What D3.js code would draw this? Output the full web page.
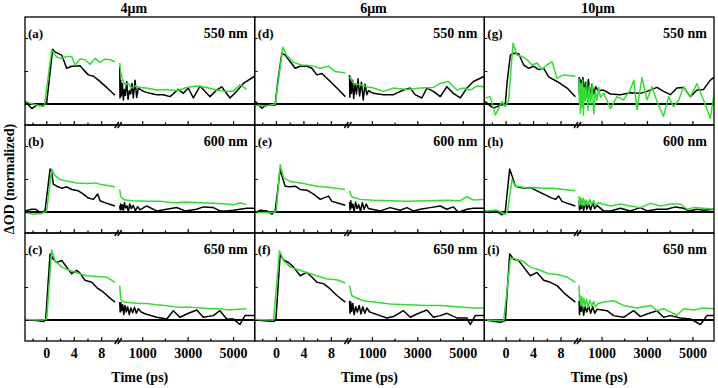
<!DOCTYPE html>
<html>
<head>
<meta charset="utf-8">
<script src="https://cdn.jsdelivr.net/npm/d3@7"></script>
<style>
  body { margin: 0; background: #fff; }
  svg text { font-family: "Times New Roman", "Liberation Serif", Times, serif; font-weight: bold; fill: #000; }
</style>
</head>
<body>
<svg id="chart" width="718" height="388"></svg>
<script>
// ---- data: [time (ps), normalized dOD] ----
const columns = ["4\u03bcm", "6\u03bcm", "10\u03bcm"];
const wavelengths = ["550 nm", "600 nm", "650 nm"];
const panelIds = ["a", "d", "g", "b", "e", "h", "c", "f", "i"];

const earlyTicks = [0, 4, 8];
const earlyMinor = [-2, 2, 6];
const lateTicks = [1000, 3000, 5000];
const lateMinor = [2000, 4000];
const yTicks = [0, 0.5, 1];

// (a) 4um 550 nm
const a_blk_early = [[-3.1,0.04],[-2.1,-0.07],[-1.15,0],[-0.43,-0.02],[0.06,0.02],[0.93,0.83],[1.27,0.79],[2.25,0.74],[2.97,0.54],[3.7,0.57],[4.92,0.58],[5.4,0.52],[6.13,0.44],[6.86,0.42],[7.59,0.36],[8.8,0.25],[10,0.13]];
const a_grn_early = [[-3.1,0.04],[-2.37,0.01],[-0.67,-0.04],[-0.28,-0.03],[0.79,0.82],[1.52,0.71],[2.25,0.69],[2.97,0.72],[3.7,0.72],[4.19,0.59],[4.92,0.68],[5.64,0.67],[6.37,0.6],[7.1,0.69],[7.83,0.63],[8.56,0.68],[9.29,0.67],[10,0.64]];
const a_blk_late = [[10,0.57],[23,0.09],[52,0.36],[80,0.12],[125,0.31],[170,0.06],[214,0.22],[258,0.13],[317,0.34],[375,0.07],[434,0.2],[493,0.15],[551,0.31],[610,0.09],[683,0.36],[757,0.1],[830,0.24],[1050,0.19],[1344,0.16],[1637,0.14],[1930,0.14],[2224,0.11],[2590,0.22],[2810,0.16],[3030,0.24],[3250,0.09],[3544,0.27],[3984,0.11],[4277,0.21],[4498,0.26],[4864,0.09],[5157,0.19],[5451,0.31],[5950,0.42]];
const a_grn_late = [[10,0.62],[52,0.49],[140,0.36],[243,0.29],[390,0.31],[536,0.24],[683,0.27],[903,0.25],[1197,0.24],[1637,0.21],[2077,0.22],[2517,0.2],[2957,0.25],[3397,0.27],[3837,0.25],[4277,0.21],[4718,0.19],[5011,0.19],[5304,0.29],[5598,0.22]];

// (b) 4um 600 nm
const b_blk_early = [[-3.1,0.015],[-2.13,0.04],[-1.5,0.04],[-0.91,-0.01],[-0.18,0.015],[0.55,0.65],[0.79,0.6],[1.03,0.42],[1.52,0.39],[2.25,0.36],[2.97,0.38],[3.7,0.34],[4.67,0.32],[5.4,0.27],[6.13,0.21],[6.86,0.19],[7.49,0.27],[7.83,0.17],[8.8,0.13],[10,0.09]];
const b_grn_early = [[-3.1,-0.01],[-1.88,-0.035],[-0.67,-0.025],[0.06,0.015],[0.79,0.65],[1.27,0.55],[2,0.49],[2.97,0.47],[4.43,0.44],[5.89,0.43],[7.1,0.44],[7.83,0.42],[10,0.38]];
const b_blk_late = [[10,0.1],[30,0.03],[55,0.12],[90,0.04],[130,0.11],[170,0.02],[220,0.14],[270,0.06],[330,0.09],[390,0],[450,0.12],[520,0.05],[600,0.1],[700,0.02],[800,0.08],[900,0.03],[1197,0.09],[1637,0.015],[2077,0.04],[2517,0.066],[2884,0.015],[3397,0.04],[3690,0.076],[4131,0.066],[4424,0.015],[4718,0.015],[5011,0.025],[5598,0.056],[5950,0.056]];
const b_grn_late = [[10,0.34],[52,0.24],[111,0.21],[243,0.18],[610,0.17],[1197,0.16],[1784,0.16],[2370,0.14],[2957,0.15],[3544,0.14],[4131,0.13],[4718,0.12],[5011,0.11],[5304,0.14],[5598,0.11]];

// (c) 4um 650 nm
const c_blk_early = [[-3.1,0.005],[-1.4,-0.01],[-0.43,-0.025],[-0.09,0],[0.55,1],[1.03,0.92],[1.52,0.87],[2.25,0.9],[2.97,0.8],[3.7,0.7],[4.43,0.75],[4.92,0.71],[5.64,0.6],[6.62,0.57],[7.35,0.49],[8.32,0.42],[9.29,0.33],[10,0.27]];
const c_grn_early = [[-3.1,0.005],[-0.43,0],[0.06,0.015],[0.79,1.06],[1.27,0.9],[2.25,0.8],[3.46,0.75],[4.92,0.7],[5.89,0.67],[7.35,0.66],[8.8,0.65],[10,0.57]];
const c_blk_late = [[10,0.27],[30,0.12],[60,0.26],[100,0.14],[140,0.23],[190,0.08],[240,0.22],[300,0.12],[360,0.2],[430,0.08],[500,0.18],[580,0.11],[660,0.19],[740,0.1],[830,0.17],[950,0.12],[1150,0.09],[1640,0.04],[2080,0.015],[2370,0.14],[2660,0.04],[2960,0.09],[3400,0.15],[3690,0.04],[4130,0.065],[4420,0.14],[4720,0.015],[5010,0.015],[5300,-0.07],[5520,0.065],[5950,0.065]];
const c_grn_late = [[10,0.52],[40,0.38],[80,0.29],[200,0.27],[500,0.26],[900,0.25],[1200,0.25],[1600,0.23],[2000,0.22],[2400,0.2],[2800,0.19],[3200,0.19],[3600,0.18],[4000,0.17],[4400,0.17],[4800,0.15],[5200,0.16],[5600,0.17]];

// (d) 6um 550 nm
const d_blk_early = [[-3,0.035],[-2.05,-0.065],[-1.32,-0.015],[-0.11,-0.015],[0.23,0.31],[0.86,0.77],[1.35,0.74],[2.08,0.64],[2.8,0.54],[3.53,0.57],[4.5,0.57],[5.23,0.54],[5.96,0.44],[6.69,0.46],[7.42,0.39],[8.88,0.24],[10.1,0.11]];
const d_grn_early = [[-3,-0.015],[-1.32,-0.03],[-0.11,0],[1.01,0.86],[1.59,0.73],[2.56,0.63],[3.78,0.59],[5.23,0.58],[6.45,0.54],[7.66,0.57],[8.63,0.49],[10.1,0.47]];
const d_blk_late = [[15,0.44],[30,0.1],[60,0.4],[100,0.16],[150,0.36],[200,0.08],[260,0.3],[320,0.15],[390,0.38],[460,0.12],[540,0.33],[620,0.06],[700,0.3],[780,0.14],[850,0.2],[1070,0.16],[1510,0.14],[1950,0.14],[2390,0.21],[2690,0.24],[2900,0.14],[3200,0.09],[3420,0.24],[3710,0.19],[4010,0.11],[4300,0.26],[4590,0.16],[4890,0.09],[5180,0.24],[5470,0.34],[5950,0.42]];
const d_grn_late = [[16,0.41],[192,0.31],[485,0.29],[779,0.26],[1072,0.24],[1512,0.19],[1952,0.24],[2539,0.22],[3126,0.24],[3713,0.25],[4006,0.31],[4373,0.34],[4740,0.21],[5033,0.24],[5327,0.21],[5620,0.27],[5950,0.26]];

// (e) 6um 600 nm
const e_blk_early = [[-3,-0.01],[-2.3,0.025],[-1.32,0.015],[-0.6,-0.035],[-0.11,0.015],[0.62,0.65],[0.86,0.55],[1.35,0.39],[2.08,0.38],[2.8,0.39],[3.53,0.34],[4.5,0.33],[5.48,0.27],[6.45,0.19],[7.18,0.22],[7.66,0.24],[8.15,0.16],[8.88,0.14],[10.1,0.1]];
const e_grn_early = [[-3,-0.01],[-0.35,-0.01],[0.04,0.015],[0.62,0.72],[1.1,0.52],[2.08,0.46],[4.02,0.43],[5.96,0.39],[7.9,0.37],[10.1,0.34]];
const e_blk_late = [[15,0.15],[35,0.03],[70,0.17],[110,0.06],[160,0.12],[220,0],[280,0.15],[350,0.05],[420,0.11],[500,0.01],[580,0.14],[660,0.04],[750,0.12],[850,0.05],[1370,0.015],[1800,0.065],[2250,0.025],[2540,0.065],[2830,0.015],[3130,0.04],[3570,0.065],[4010,0.09],[4300,0.04],[4590,0.076],[4810,-0.005],[5180,0.04],[5470,0.055],[5950,0.055]];
const e_grn_late = [[15,0.32],[110,0.23],[480,0.19],[1070,0.175],[1800,0.17],[2540,0.16],[3420,0.17],[4300,0.175],[4890,0.17],[5180,0.23],[5470,0.18],[5950,0.19]];

// (f) 6um 650 nm
const f_blk_early = [[-3,0],[-0.35,-0.025],[-0.01,0],[0.62,1],[1.1,0.91],[1.83,0.87],[2.56,0.8],[3.53,0.67],[4.5,0.72],[5.23,0.65],[5.96,0.57],[6.93,0.55],[7.9,0.47],[8.88,0.37],[10.1,0.27]];
const f_grn_early = [[-3,0.005],[-0.35,0],[0.52,1.05],[1.1,0.9],[2.08,0.8],[3.29,0.76],[4.5,0.72],[5.96,0.67],[7.42,0.62],[8.88,0.61],[10.1,0.56]];
const f_blk_late = [[15,0.29],[35,0.1],[70,0.27],[110,0.13],[160,0.25],[220,0.08],[290,0.2],[360,0.12],[440,0.22],[520,0.09],[600,0.2],[690,0.1],[780,0.18],[900,0.12],[1360,0.065],[1660,0.03],[1950,0.05],[2390,0.14],[2690,0.04],[2980,0.09],[3420,0.15],[3710,0.04],[4010,0.065],[4300,0.1],[4740,0.03],[5180,0.03],[5330,-0.07],[5550,0.065],[5950,0.065]];
const f_grn_late = [[15,0.52],[110,0.37],[270,0.34],[630,0.29],[1070,0.27],[1800,0.24],[2540,0.23],[3420,0.22],[4010,0.22],[4740,0.2],[5470,0.18],[5950,0.18]];

// (g) 10um 550 nm
const g_blk_early = [[-2.95,0.035],[-2.23,-0.03],[-1.74,-0.065],[-1.01,-0.03],[-0.04,0],[0.2,0.31],[0.69,0.74],[1.17,0.77],[1.9,0.76],[2.63,0.59],[3.36,0.54],[4.09,0.57],[4.82,0.52],[5.55,0.54],[6.27,0.41],[7.49,0.34],[8.95,0.24],[10.16,0.11]];
const g_grn_early = [[-2.95,0.09],[-2.23,0.11],[-1.5,-0.17],[-0.53,0.035],[-0.04,-0.04],[0.45,0.06],[1.08,0.92],[1.66,0.74],[2.39,0.72],[3.12,0.67],[3.85,0.59],[4.57,0.62],[5.3,0.52],[6.03,0.59],[6.76,0.64],[7.49,0.39],[8.46,0.44],[10.16,0.42]];
const g_blk_late = [[10,0.41],[25,0.15],[45,0.38],[70,0.12],[100,0.36],[140,0.14],[180,0.4],[230,0.13],[290,0.33],[350,0.11],[420,0.37],[500,0.12],[580,0.3],[660,0.15],[740,0.26],[850,0.2],[1090,0.21],[1390,0.15],[1830,0.14],[2270,0.17],[2710,0.16],[3000,0.19],[3440,0.25],[3730,0.19],[4030,0.14],[4320,0.24],[4620,0.25],[4910,0.11],[5200,0.21],[5490,0.22],[5790,0.36],[6000,0.42]];
const g_grn_late = [[10,0.39],[25,0],[45,0.33],[70,-0.15],[100,0.3],[130,-0.05],[165,0.36],[200,-0.17],[240,0.25],[290,0.05],[340,0.33],[400,-0.1],[460,0.28],[520,0],[590,0.3],[660,-0.15],[730,0.2],[800,0.05],[870,0.25],[950,0.1],[1100,0.16],[1390,-0.07],[1680,0.11],[1970,0.06],[2260,0.21],[2420,0.36],[2560,-0.09],[2780,0.4],[3000,0.06],[3220,0.26],[3440,0.04],[3730,-0.19],[3950,0.11],[4170,-0.04],[4400,0.06],[4610,0.26],[4910,0.11],[5200,0.31],[5490,0.06],[5790,-0.22],[6000,0.26]];

// (h) 10um 600 nm
const h_blk_early = [[-2.95,0.015],[-2.23,-0.01],[-1.5,0.025],[-0.53,-0.045],[-0.04,0.015],[0.59,0.65],[0.93,0.55],[1.42,0.39],[2.15,0.37],[2.87,0.36],[3.6,0.37],[4.57,0.32],[5.55,0.27],[6.52,0.22],[7.25,0.19],[7.73,0.24],[8.22,0.16],[8.95,0.13],[10.16,0.09]];
const h_grn_early = [[-2.95,0.015],[-1.25,0.025],[-0.04,-0.035],[0.3,0.015],[0.93,0.49],[1.42,0.39],[2.15,0.38],[3.12,0.36],[4.09,0.37],[5.55,0.36],[7,0.36],[8.46,0.34],[10.16,0.32]];
const h_blk_late = [[10,0.17],[30,0.03],[60,0.15],[100,0.05],[150,0.13],[210,0.02],[280,0.16],[350,0.04],[430,0.12],[520,0.03],[610,0.14],[700,0.05],[800,0.1],[1090,0.015],[1390,0.015],[1830,0.055],[2270,0.015],[2710,0.065],[3000,0.015],[3440,0.04],[3870,0.04],[4250,0.076],[4620,0.055],[4840,0.015],[5200,0.04],[5490,0.025],[6000,0.04]];
const h_grn_late = [[10,0.24],[25,0.1],[45,0.22],[75,0.12],[110,0.2],[150,0.09],[200,0.21],[260,0.1],[330,0.18],[400,0.1],[480,0.19],[560,0.11],[650,0.17],[750,0.1],[850,0.14],[1390,0.09],[1830,0.12],[2270,0.09],[2710,0.065],[3150,0.13],[3590,0.09],[4030,0.12],[4470,0.12],[4760,0.04],[5050,0.065],[5490,0.055],[6000,0.04]];

// (i) 10um 650 nm
const i_blk_early = [[-2.95,0],[-0.77,-0.035],[-0.04,-0.01],[0.59,1],[1.17,0.92],[1.9,0.9],[2.63,0.8],[3.6,0.67],[4.57,0.72],[5.55,0.6],[6.52,0.57],[7.49,0.52],[8.7,0.39],[10.16,0.27]];
const i_grn_early = [[-2.95,0],[-0.28,-0.01],[0.69,0.92],[1.08,0.94],[1.66,0.91],[2.39,0.9],[3.6,0.8],[4.82,0.76],[6.27,0.7],[7.49,0.69],[8.95,0.65],[10.16,0.57]];
const i_blk_late = [[10,0.29],[30,0.08],[60,0.27],[100,0.13],[150,0.25],[210,0.07],[280,0.2],[350,0.12],[430,0.21],[520,0.1],[610,0.2],[700,0.1],[800,0.16],[1240,0.14],[1530,0.065],[1970,0.04],[2410,0.14],[2710,0.05],[3000,0.09],[3440,0.14],[3730,0.04],[4030,0.065],[4470,0.03],[4910,0.015],[5350,-0.07],[5640,0.065],[6000,0.065]];
const i_grn_late = [[10,0.52],[30,0.3],[55,0.37],[85,0.22],[120,0.35],[160,0.2],[210,0.33],[270,0.22],[340,0.31],[410,0.19],[490,0.3],[570,0.21],[650,0.28],[740,0.2],[850,0.25],[1090,0.27],[1530,0.29],[1970,0.22],[2560,0.18],[3150,0.22],[3440,0.14],[3730,0.17],[4320,0.07],[4620,0.17],[5050,0.15],[5490,0.18],[6000,0.17]];

const series = {
  a: [a_blk_early, a_grn_early, a_blk_late, a_grn_late],
  b: [b_blk_early, b_grn_early, b_blk_late, b_grn_late],
  c: [c_blk_early, c_grn_early, c_blk_late, c_grn_late],
  d: [d_blk_early, d_grn_early, d_blk_late, d_grn_late],
  e: [e_blk_early, e_grn_early, e_blk_late, e_grn_late],
  f: [f_blk_early, f_grn_early, f_blk_late, f_grn_late],
  g: [g_blk_early, g_grn_early, g_blk_late, g_grn_late],
  h: [h_blk_early, h_grn_early, h_blk_late, h_grn_late],
  i: [i_blk_early, i_grn_early, i_blk_late, i_grn_late]
};

// ---- layout ----
const svg = d3.select("#chart");
const margin = { top: 17, left: 25, right: 4, bottom: 47 };
const W = (718 - margin.left - margin.right) / 3;
const H = (388 - margin.top - margin.bottom) / 3;
const breakAt = 92;
const GREEN = "#2ee02e";

const xEarly = d3.scaleLinear().domain([-3.1, 10.3]).range([0, breakAt]);
const xLate = d3.scaleLinear().domain([0, 5950]).range([breakAt + 2.5, W]);
const y = d3.scaleLinear().domain([-0.32, 1.318]).range([H, 0]);

const lineEarly = d3.line().x(d => xEarly(d[0])).y(d => y(d[1]));
const lineLate = d3.line().x(d => xLate(d[0])).y(d => y(d[1]));

svg.append("defs").append("clipPath").attr("id", "clip")
  .append("rect").attr("width", W).attr("height", H);

panelIds.forEach((id, k) => {
  const col = k % 3, row = Math.floor(k / 3);
  const g = svg.append("g")
    .attr("transform", `translate(${margin.left + col * W},${margin.top + row * H})`);
  const [blkE, grnE, blkL, grnL] = series[id];

  const plot = g.append("g").attr("clip-path", "url(#clip)");

  // zero line
  plot.append("line")
    .attr("x1", 0).attr("x2", W)
    .attr("y1", y(0)).attr("y2", y(0))
    .attr("stroke", "#000").attr("stroke-width", 2);

  [[blkE, lineEarly, "#000"], [blkL, lineLate, "#000"], [grnE, lineEarly, GREEN], [grnL, lineLate, GREEN]]
    .forEach(([data, gen, color]) => {
      plot.append("path")
        .attr("d", gen(data))
        .attr("fill", "none")
        .attr("stroke", color)
        .attr("stroke-width", 1.5)
        .attr("stroke-linejoin", "round");
    });

  // bottom axes, ticks pointing inward
  const isBottom = row === 2;
  const addAxis = (scale, values, size, labels) => {
    const ax = g.append("g")
      .attr("transform", `translate(0,${H})`)
      .call(d3.axisBottom(scale).tickValues(values).tickSize(-size).tickPadding(7)
        .tickFormat(labels ? d3.format("d") : ""));
    ax.select(".domain").remove();
    ax.selectAll("line").attr("stroke-width", 1.2);
    ax.selectAll("text").style("font-size", "14px");
  };
  addAxis(xEarly, earlyTicks, 4, isBottom);
  addAxis(xEarly, earlyMinor, 2.5, false);
  addAxis(xLate, lateTicks, 4, isBottom);
  addAxis(xLate, lateMinor, 2.5, false);

  // left ticks
  const ay = g.append("g")
    .call(d3.axisLeft(y).tickValues(yTicks).tickSize(-3).tickFormat(""));
  ay.select(".domain").remove();

  // frame
  g.append("rect")
    .attr("width", W).attr("height", H)
    .attr("fill", "none").attr("stroke", "#000").attr("stroke-width", 1.3);

  // axis break marks
  [-1.5, 1.5].forEach(dx => {
    g.append("line")
      .attr("x1", breakAt + 1.2 + dx - 2).attr("y1", H + 3)
      .attr("x2", breakAt + 1.2 + dx + 2).attr("y2", H - 3)
      .attr("stroke", "#000").attr("stroke-width", 1.4);
  });

  // labels
  g.append("text").attr("x", 3).attr("y", 20.5)
    .style("font-size", "13px").text(`(${id})`);
  g.append("text").attr("x", W - 7).attr("y", 21)
    .attr("text-anchor", "end").style("font-size", "14px")
    .text(wavelengths[row]);

  if (row === 0) {
    g.append("text").attr("x", W / 2 - [6, -4, 1][col]).attr("y", -4)
      .attr("text-anchor", "middle").style("font-size", "14px")
      .text(columns[col]);
  }
  if (isBottom) {
    g.append("text").attr("x", W / 2).attr("y", H + 41)
      .attr("text-anchor", "middle").style("font-size", "14px")
      .text("Time (ps)");
  }
});

// y label
svg.append("text")
  .attr("transform", `translate(14,${margin.top + 1.5 * H}) rotate(-90)`)
  .attr("text-anchor", "middle")
  .style("font-size", "14px")
  .text("\u0394OD (normalized)");
</script>
</body>
</html>
